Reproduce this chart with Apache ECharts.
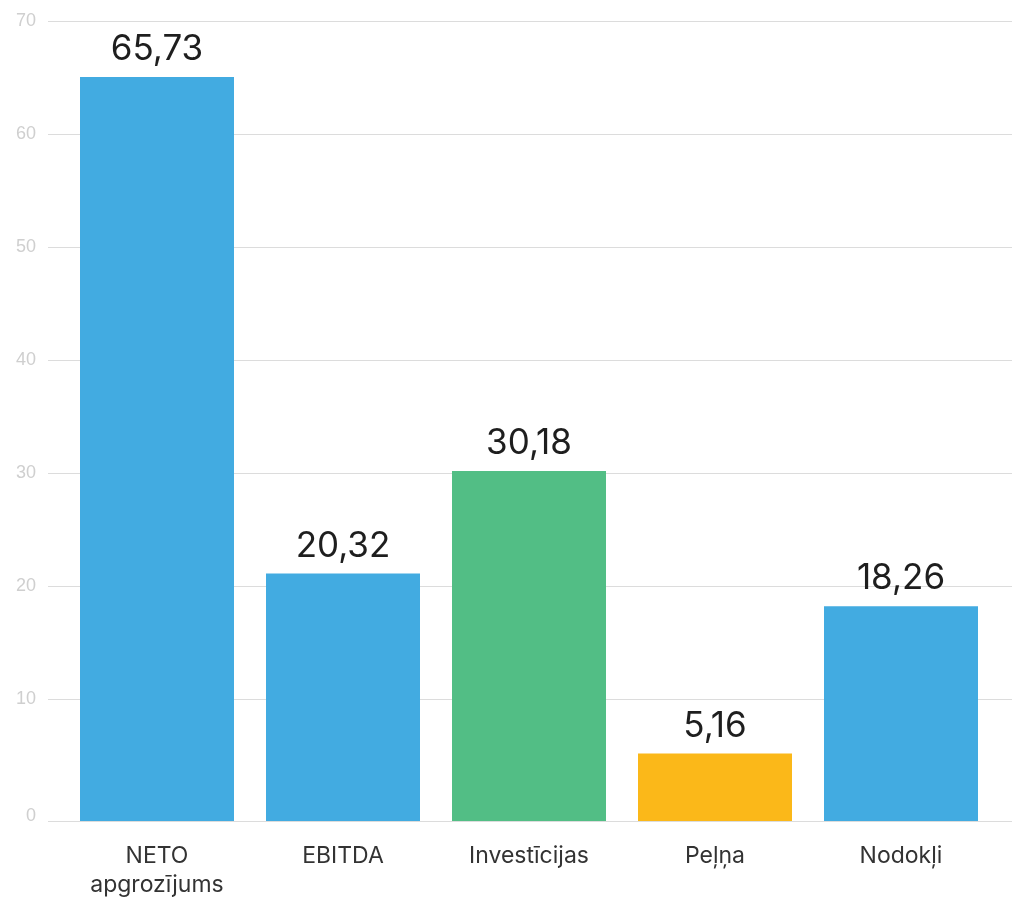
<!DOCTYPE html>
<html>
<head>
<meta charset="utf-8">
<script src="https://cdn.jsdelivr.net/npm/echarts@6/dist/echarts.min.js"></script>
<style>
html,body{margin:0;padding:0;background:#fff;}
#chart{width:1012px;height:898px;}
</style>
</head>
<body>
<div id="chart"></div>
<script>
// Categories and values
const categories = ['NETO\napgrozījums', 'EBITDA', 'Investīcijas', 'Peļņa', 'Nodokļi'];
// bar heights as drawn in the picture
const barValues = [65.08, 21.1, 30.18, 5.16, 18.2];
// values printed above the bars
const labelValues = [65.73, 20.32, 30.18, 5.16, 18.26];
const barColors = ['#42abe1', '#42abe1', '#52be85', '#fbb819', '#42abe1'];
const yTicks = [10, 20, 30, 40, 50, 60, 70];
const yMin = -0.82;
const yMax = 70;

const chart = echarts.init(document.getElementById('chart'));
const fmt = v => v.toFixed(2).replace('.', ',');

const mainData = barValues.map((v, i) => ({
  value: v,
  itemStyle: {color: barColors[i]}
}));

const option = {
  animation: false,
  grid: [
    {left: 48, right: 0, top: 21.5, bottom: 77, outerBoundsMode: 'none', containLabel: false},
    {left: 64, right: 18, top: 21.5, bottom: 77, outerBoundsMode: 'none', containLabel: false}
  ],
  xAxis: [
    {gridIndex: 0, type: 'value', show: false, min: 0, max: 1},
    {
      gridIndex: 1, type: 'category', data: categories,
      axisLine: {show: false}, axisTick: {show: false},
      axisLabel: {margin: 21, color: '#333', fontFamily: 'Inter', fontSize: 23, lineHeight: 29}
    }
  ],
  yAxis: [
    {
      gridIndex: 0, type: 'value', min: yMin, max: yMax,
      axisLine: {show: false},
      axisTick: {show: false, customValues: [yMin].concat(yTicks)},
      axisLabel: {
        customValues: [-0.37].concat(yTicks),
        formatter: v => (v < 0 ? '0' : String(Math.round(v))),
        color: '#cfcfcf', fontFamily: 'Liberation Sans', fontSize: 18, margin: 12
      },
      splitLine: {show: true, lineStyle: {color: '#dcdcdc', width: 1}}
    },
    {gridIndex: 1, type: 'value', min: yMin, max: yMax, startValue: yMin, show: false, splitLine: {show: false}}
  ],
  series: [
    {
      type: 'bar', xAxisIndex: 1, yAxisIndex: 1,
      data: mainData,
      barWidth: 154,
      label: {
        show: true, position: 'top', distance: 10,
        formatter: p => fmt(labelValues[p.dataIndex]),
        color: '#1e1e1e', fontFamily: 'Inter', fontSize: 35
      }
    }
  ]
};
chart.setOption(option);
</script>
</body>
</html>
